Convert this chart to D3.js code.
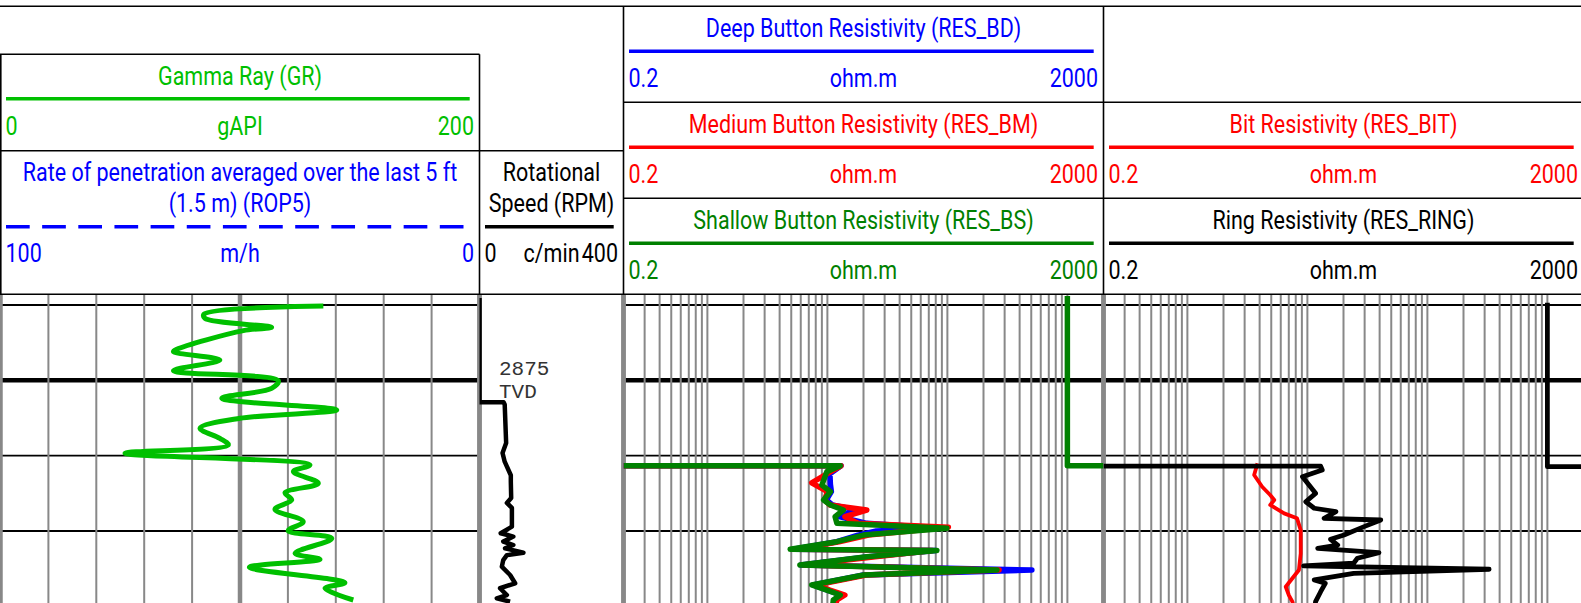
<!DOCTYPE html>
<html>
<head>
<meta charset="utf-8">
<script src="https://cdn.jsdelivr.net/npm/d3@7"></script>
<style>
  body { margin: 0; background: #fff; overflow: hidden; }
  svg { display: block; }
  text { font-family: Roboto, 'Noto Sans', sans-serif; font-size: 25px; }
</style>
</head>
<body>
<div id="logPlot"></div>
<script>
// depth grid (m)
var depth_ticks = [2870, 2875, 2880, 2885, 2890];

// [depth, value] pairs
var gr_data = [
	[2870.07, 134.8], [2870.60, 85.0], [2870.89, 85.4], [2871.48, 113.2], [2871.70, 101.4],
	[2872.94, 73.6], [2873.10, 72.2], [2873.65, 91.6], [2874.36, 72.2], [2875.02, 116],
	[2875.53, 113.2], [2876.19, 92.4], [2876.97, 140.4], [2877.52, 100], [2878.18, 83.3],
	[2878.85, 91.6], [2879.29, 95.1], [2879.84, 52], [2880.62, 129.2], [2881.06, 122.3],
	[2881.83, 132.7], [2882.46, 118.8], [2882.94, 121.6], [2883.56, 114.6], [2884.38, 126.4],
	[2884.98, 120.1], [2885.49, 138.3], [2886.48, 123], [2886.88, 133.4], [2887.41, 103.9],
	[2888.43, 143.8], [2888.80, 135.5], [2889.58, 147.3]
];

var rpm_data = [
	[2869.54, 0], [2876.46, 0], [2876.46, 67], [2876.6, 70], [2879.16, 74], [2879.82, 64],
	[2880.4, 70], [2881.3, 87], [2881.73, 87], [2882.81, 88], [2883.14, 76], [2883.47, 90],
	[2884.71, 90], [2885.15, 59], [2885.37, 94], [2885.70, 66], [2885.93, 94], [2886.15, 71],
	[2886.44, 122], [2886.6, 76], [2886.93, 66], [2887.37, 62], [2887.92, 85], [2888.47, 99],
	[2888.8, 57], [2889.25, 76], [2889.47, 48], [2889.69, 85]
];

// null = curve wraps off the right edge and comes back in from the left
var res_bd_data = [
	[2880.67, 0.2], [2880.67, 13], [2881.2, 10.5], [2881.9, 10.6], [2882.39, 10.8], [2882.94, 9.8],
	[2883.27, 11], [2883.61, 17.5], [2884.05, 12.5], [2884.49, 21.3], [2884.82, 90], [2885.0, 25.6],
	[2885.27, 18], [2885.71, 12], [2886.21, 5.2], [2886.30, 80], [2886.71, 22], [2887.26, 6],
	[2887.59, 506], [2887.92, 20], [2888.58, 7.6], [2888.92, 10], [2889.25, 13], [2889.58, 11.5],
	[2890.2, 11]
];
var res_bm_data = [
	[2880.67, 0.2], [2880.67, 13], [2881.2, 10], [2881.8, 7.4], [2882.39, 10], [2882.94, 9.5],
	[2883.27, 10.5], [2883.61, 21.3], [2884.05, 14], [2884.49, 18], [2884.75, 102], [2885.27, 22],
	[2885.71, 12.5], [2886.21, 5.5], [2886.30, 75], [2886.71, 25], [2887.26, 6.3], [2887.59, 270],
	[2887.92, 21], [2888.58, 8], [2888.92, 10.5], [2889.25, 14], [2889.58, 12], [2890.2, 11.5]
];
var res_bs_data = [
	[2869.4, 1000], [2880.67, 1000], [2880.67, 2000], null,
	[2880.67, 0.2], [2880.67, 12.8], [2881.06, 9.9], [2881.95, 9.0], [2882.39, 10.6], [2882.94, 9.3],
	[2883.27, 10.6], [2883.61, 13.6], [2884.05, 11.6], [2884.49, 12.0], [2884.82, 99], [2885.27, 20],
	[2885.71, 12], [2886.21, 4.9], [2886.30, 81.8], [2886.71, 21.3], [2887.26, 5.9], [2887.59, 259],
	[2887.92, 20], [2888.58, 7.4], [2888.92, 9.9], [2889.25, 12.8], [2889.58, 11.2], [2890.2, 11]
];
var res_bit_data = [
	[2880.51, 3.84], [2881.28, 3.6], [2882.06, 4.2], [2882.61, 4.9], [2882.94, 5.3], [2883.27, 4.9],
	[2883.83, 6.4], [2884.16, 8.2], [2884.94, 8.8], [2886.49, 8.8], [2887.59, 8.5], [2888.70, 6.6],
	[2889.25, 7.0], [2889.69, 7.5], [2890.2, 7.8]
];
var res_ring_data = [
	[2869.85, 1000], [2880.73, 1000], [2880.73, 2000], null,
	[2880.69, 0.2], [2880.69, 12.9], [2880.95, 13.3], [2881.40, 9.1], [2882.06, 10.6], [2882.50, 11.7],
	[2883.06, 9.7], [2883.49, 11.4], [2883.72, 17.3], [2884.16, 13.8], [2884.27, 40.9], [2884.71, 29.7],
	[2885.27, 20.2], [2885.55, 15.6], [2885.93, 17.9], [2886.15, 12.2], [2886.44, 39.5], [2886.81, 26.1],
	[2887.14, 24.3], [2887.32, 9.3], [2887.54, 327], [2887.81, 24.3], [2888.25, 11.4], [2888.47, 14.1],
	[2889.03, 12.9], [2889.69, 11.7], [2890.2, 11.5]
];

var width = 1581;
var height = 603;
var header_bottom = 294.3;
var sx = 0.86; // condensed look

var svg = d3.select('#logPlot')
	.append('svg')
	.attr('width', width)
	.attr('height', height);

// Scales
var y_scale = d3.scaleLinear().domain([2870, 2885]).range([305, 531]);
var gr_scale = d3.scaleLinear().domain([0, 200]).range([0.5, 479.5]);
var rpm_scale = d3.scaleLinear().domain([0, 400]).range([479.5, 623.5]);
var res1_scale = d3.scaleLog().domain([0.2, 2000]).range([623.5, 1103.5]);
var res2_scale = d3.scaleLog().domain([0.2, 2000]).range([1103.5, 1583.5]);

// clip for the data area
var defs = svg.append('defs');
function addClip(id, x0, x1) {
	defs.append('clipPath').attr('id', id)
		.append('rect')
		.attr('x', x0).attr('y', header_bottom)
		.attr('width', x1 - x0).attr('height', height - header_bottom);
}
addClip('clipGR', 0, 479.5);
addClip('clipRPM', 479.5, 623.5);
addClip('clipRes1', 623.5, 1103.5);
addClip('clipRes2', 1103.5, 1583.5);

// ---------- grid ----------
var grid = svg.append('g').attr('class', 'grid');

// horizontal depth lines (no grid in the RPM track)
[[0.5, 479.5], [623.5, 1583.5]].forEach(function(span) {
	grid.append('g').selectAll('line')
		.data(depth_ticks)
		.enter()
		.append('line')
		.attr('x1', span[0]).attr('x2', span[1])
		.attr('y1', function(d) { return y_scale(d); })
		.attr('y2', function(d) { return y_scale(d); })
		.attr('stroke', '#000')
		.attr('stroke-width', function(d) { return d % 25 === 0 ? 4.5 : 1.8; });
});

// linear grid for GR
grid.append('g').selectAll('line')
	.data(d3.range(0, 201, 20))
	.enter()
	.append('line')
	.attr('x1', function(d) { return gr_scale(d); })
	.attr('x2', function(d) { return gr_scale(d); })
	.attr('y1', header_bottom).attr('y2', height)
	.attr('stroke', '#888')
	.attr('stroke-width', function(d) { return (d === 0 || d === 100 || d === 200) ? 4.5 : 2; });

// log grid for resistivity tracks
var log_ticks = [];
[0.1, 1, 10, 100, 1000].forEach(function(base) {
	for (var m = 1; m <= 9; m++) {
		var v = +(base * m).toPrecision(3);
		if (v >= 0.2 && v <= 2000) log_ticks.push(v);
	}
});
[res1_scale, res2_scale].forEach(function(sc) {
	grid.append('g').selectAll('line')
		.data(log_ticks)
		.enter()
		.append('line')
		.attr('x1', function(d) { return sc(d); })
		.attr('x2', function(d) { return sc(d); })
		.attr('y1', header_bottom).attr('y2', height)
		.attr('stroke', '#888')
		.attr('stroke-width', function(d) { return (d === 0.2 || d === 2000) ? 4.5 : 2; });
});

// RPM track edges
grid.append('g').selectAll('line')
	.data([0, 400])
	.enter()
	.append('line')
	.attr('x1', function(d) { return rpm_scale(d); })
	.attr('x2', function(d) { return rpm_scale(d); })
	.attr('y1', header_bottom).attr('y2', height)
	.attr('stroke', '#888')
	.attr('stroke-width', 4.5);

// ---------- curves ----------
function drawCurve(data, xs, clip, color, w, curve) {
	var line = d3.line()
		.defined(function(d) { return d !== null; })
		.x(function(d) { return xs(d[1]); })
		.y(function(d) { return y_scale(d[0]); })
		.curve(curve || d3.curveLinear);
	svg.append('path')
		.datum(data)
		.attr('clip-path', 'url(#' + clip + ')')
		.attr('d', line)
		.attr('fill', 'none')
		.attr('stroke', color)
		.attr('stroke-width', w)
		.attr('stroke-linejoin', 'round');
}

drawCurve(gr_data, gr_scale, 'clipGR', '#00c000', 5, d3.curveCatmullRom.alpha(0.5));
drawCurve(rpm_data, rpm_scale, 'clipRPM', '#000', 4.5);
drawCurve(res_bd_data, res1_scale, 'clipRes1', '#0000ff', 5.5);
drawCurve(res_bm_data, res1_scale, 'clipRes1', '#ff0000', 5.5);
drawCurve(res_bs_data, res1_scale, 'clipRes1', '#008000', 5.5);
drawCurve(res_bit_data, res2_scale, 'clipRes2', '#ff0000', 3.8);
drawCurve(res_ring_data, res2_scale, 'clipRes2', '#000', 4.8);

// depth annotation
var tvd = svg.append('g').attr('fill', '#333');
tvd.append('text').attr('x', 499).attr('y', y_scale(2875) - 5)
	.style('font-family', "'Liberation Mono', monospace").style('font-size', '21px').text('2875');
tvd.append('text').attr('x', 499).attr('y', y_scale(2875) + 18)
	.style('font-family', "'Liberation Mono', monospace").style('font-size', '21px').text('TVD');

// ---------- header ----------
var head = svg.append('g').attr('class', 'header');

function hline(x1, x2, y) {
	head.append('line').attr('x1', x1).attr('x2', x2).attr('y1', y).attr('y2', y)
		.attr('stroke', '#000').attr('stroke-width', 1.6);
}
function vline(x, y1, y2) {
	head.append('line').attr('x1', x).attr('x2', x).attr('y1', y1).attr('y2', y2)
		.attr('stroke', '#000').attr('stroke-width', 1.6);
}
function label(x, y, txt, color, anchor) {
	head.append('text')
		.attr('transform', 'translate(' + x + ',' + y + ') scale(' + sx + ',1)')
		.attr('text-anchor', anchor)
		.attr('fill', color)
		.text(txt);
}

// box lines
hline(0, width, 6.3);
hline(0, width, header_bottom);
hline(0, 479.5, 54.3);
hline(0, 623.5, 150.7);
hline(623.5, width, 102.3);
hline(623.5, width, 198.3);
vline(0.8, 54.3, header_bottom);
vline(479.5, 54.3, header_bottom);
vline(623.5, 6.3, header_bottom);
vline(1103.5, 6.3, header_bottom);

// one curve entry in a track header
function curveHeader(x0, x1, titles, top, color, lineY, labelY, left, unit, right, dash) {
	titles.forEach(function(t) {
		label((x0 + x1) / 2, top + t[1], t[0], color, 'middle');
	});
	head.append('line')
		.attr('x1', x0 + 5.5).attr('x2', x1 - 9.8)
		.attr('y1', top + lineY).attr('y2', top + lineY)
		.attr('stroke', color)
		.attr('stroke-width', 3.6)
		.attr('stroke-dasharray', dash || null);
	label(x0 + 5, top + labelY, left, color, 'start');
	label((x0 + x1) / 2, top + labelY, unit, color, 'middle');
	label(x1 - 5.5, top + labelY, right, color, 'end');
}

curveHeader(0.5, 479.5, [['Gamma Ray (GR)', 30.7]], 54.3, '#00c000', 44.4, 80.8, '0', 'gAPI', '200');
curveHeader(0.5, 479.5, [['Rate of penetration averaged over the last 5 ft', 30.3], ['(1.5 m) (ROP5)', 61]],
	150.7, '#0000ff', 76, 111.4, '100', 'm/h', '0', '23.7,12.45');
curveHeader(479.5, 623.5, [['Rotational', 30.3], ['Speed (RPM)', 61]],
	150.7, '#000', 76, 111.4, '0', 'c/min', '400');

curveHeader(623.5, 1103.5, [['Deep Button Resistivity (RES_BD)', 30.7]], 6.3, '#0000ff', 45, 81, '0.2', 'ohm.m', '2000');
curveHeader(623.5, 1103.5, [['Medium Button Resistivity (RES_BM)', 30.7]], 102.3, '#ff0000', 45, 81, '0.2', 'ohm.m', '2000');
curveHeader(623.5, 1103.5, [['Shallow Button Resistivity (RES_BS)', 30.7]], 198.3, '#008000', 45, 81, '0.2', 'ohm.m', '2000');
curveHeader(1103.5, 1583.5, [['Bit Resistivity (RES_BIT)', 30.7]], 102.3, '#ff0000', 45, 81, '0.2', 'ohm.m', '2000');
curveHeader(1103.5, 1583.5, [['Ring Resistivity (RES_RING)', 30.7]], 198.3, '#000', 45, 81, '0.2', 'ohm.m', '2000');
</script>
</body>
</html>
